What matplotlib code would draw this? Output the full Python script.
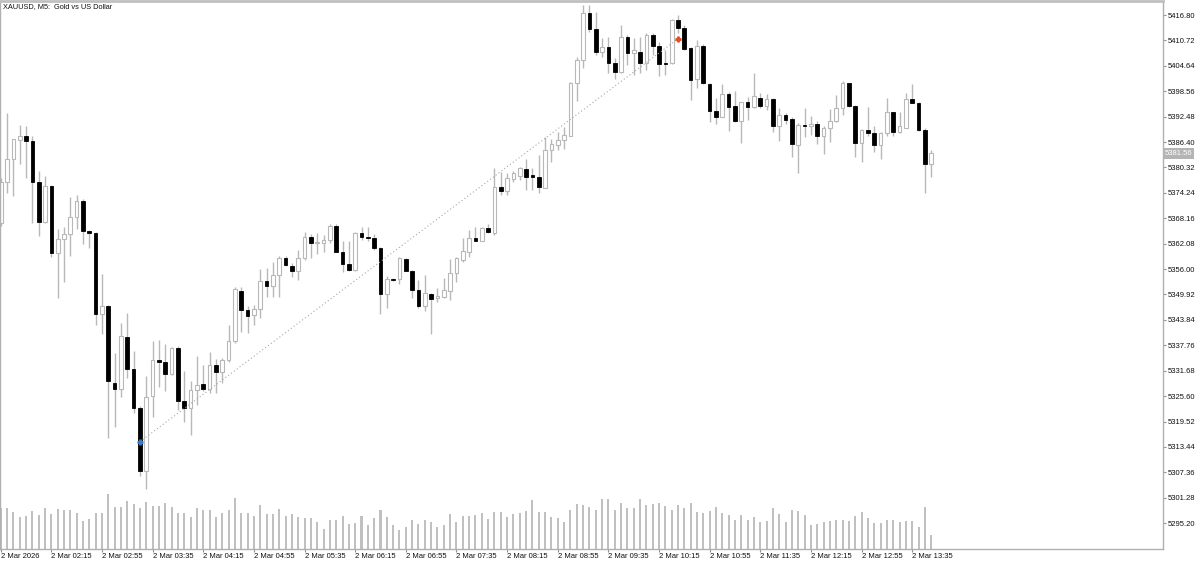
import matplotlib
matplotlib.use("Agg")
import matplotlib.pyplot as plt
import numpy as np
from matplotlib.transforms import blended_transform_factory, offset_copy

plt.rcParams['font.family'] = ['Liberation Sans', 'DejaVu Sans']

# ---------------- data (XAUUSD M5, 2 Mar 2026, from 01:35) ----------------
opens = [5367.0, 5376.9, 5382.3, 5386.9, 5387.9, 5386.7, 5376.8, 5367.2, 5375.9, 5359.9,
         5363.1, 5364.3, 5368.5, 5372.4, 5365.0, 5364.7, 5345.3, 5347.2, 5328.7, 5327.2,
         5339.8, 5332.1, 5322.7, 5307.7, 5325.6, 5334.2, 5333.8, 5330.8, 5337.1, 5324.4,
         5322.8, 5327.1, 5328.4, 5327.2, 5333.0, 5331.4, 5334.2, 5338.7, 5350.8, 5346.2,
         5345.0, 5346.4, 5353.1, 5352.0, 5354.7, 5358.7, 5356.8, 5355.6, 5358.6, 5363.7,
         5362.2, 5362.2, 5363.0, 5366.4, 5360.2, 5357.2, 5355.8, 5364.6, 5363.7, 5363.4,
         5361.1, 5350.0, 5353.6, 5353.6, 5358.4, 5355.6, 5351.0, 5347.2, 5350.0, 5349.0,
         5349.4, 5350.8, 5355.0, 5358.2, 5360.2, 5363.4, 5362.8, 5365.8, 5364.7, 5375.7,
         5374.8, 5377.6, 5378.3, 5380.0, 5378.5, 5378.0, 5375.3, 5384.5, 5385.7, 5386.9,
         5387.9, 5400.6, 5406.0, 5417.2, 5413.4, 5408.0, 5409.2, 5405.4, 5403.1, 5411.5,
         5407.6, 5408.0, 5405.4, 5412.0, 5409.4, 5405.4, 5405.2, 5415.6, 5413.6, 5408.8,
         5401.4, 5409.4, 5400.3, 5393.8, 5392.5, 5397.8, 5395.0, 5391.4, 5396.1, 5394.7,
         5397.0, 5395.0, 5396.6, 5390.2, 5392.9, 5391.8, 5385.7, 5390.5, 5390.3, 5390.7,
         5387.9, 5389.8, 5391.4, 5394.5, 5400.5, 5395.0, 5386.2, 5389.3, 5388.6, 5385.7,
         5388.5, 5393.5, 5388.9, 5389.8, 5396.6, 5395.8, 5389.3, 5381.1]

closes = [5376.8, 5382.3, 5387.1, 5387.9, 5386.7, 5376.8, 5367.2, 5375.9, 5359.9, 5363.2,
          5364.3, 5368.5, 5372.4, 5365.1, 5364.7, 5345.3, 5347.2, 5329.1, 5327.2, 5340.0,
          5332.1, 5322.7, 5307.7, 5325.5, 5334.2, 5333.8, 5330.8, 5337.2, 5324.4, 5322.8,
          5327.1, 5328.3, 5327.2, 5333.0, 5331.4, 5334.2, 5338.7, 5351.2, 5346.2, 5344.8,
          5346.4, 5353.1, 5352.0, 5354.7, 5358.7, 5357.0, 5355.6, 5358.6, 5363.7, 5362.2,
          5362.3, 5363.0, 5366.4, 5360.2, 5357.1, 5355.8, 5364.6, 5363.7, 5363.4, 5361.1,
          5350.0, 5353.6, 5353.4, 5358.6, 5355.6, 5351.0, 5347.2, 5350.2, 5348.8, 5349.6,
          5351.0, 5355.0, 5358.6, 5360.4, 5363.4, 5362.8, 5365.8, 5364.9, 5375.7, 5374.8,
          5377.7, 5379.1, 5380.1, 5378.1, 5378.0, 5375.6, 5384.5, 5385.9, 5386.9, 5388.1,
          5400.6, 5406.0, 5417.2, 5413.4, 5408.0, 5409.2, 5405.4, 5403.2, 5411.5, 5407.8,
          5408.4, 5405.4, 5412.0, 5409.4, 5405.1, 5405.1, 5415.6, 5413.6, 5408.7, 5401.3,
          5409.4, 5400.5, 5393.8, 5392.5, 5397.8, 5394.9, 5391.4, 5395.9, 5394.7, 5397.3,
          5395.0, 5396.6, 5390.2, 5392.9, 5391.7, 5385.9, 5390.5, 5390.2, 5390.7, 5387.9,
          5389.7, 5391.5, 5394.5, 5400.6, 5395.0, 5386.2, 5389.3, 5388.6, 5385.7, 5388.6,
          5393.5, 5388.9, 5390.2, 5396.6, 5395.8, 5389.3, 5381.1, 5383.7]

highs = [5377.8, 5393.4, 5387.2, 5390.5, 5390.2, 5387.9, 5379.5, 5378.3, 5376.1, 5365.5,
         5366.1, 5373.2, 5373.7, 5372.7, 5365.4, 5364.9, 5354.8, 5347.4, 5335.9, 5343.0,
         5345.4, 5336.5, 5323.2, 5330.3, 5338.8, 5339.0, 5338.1, 5337.4, 5337.6, 5331.5,
         5329.1, 5335.2, 5333.1, 5336.1, 5334.4, 5334.6, 5342.5, 5351.6, 5351.6, 5347.2,
         5347.4, 5355.9, 5356.2, 5357.8, 5359.1, 5359.1, 5357.5, 5360.6, 5364.8, 5364.4,
         5364.6, 5364.2, 5366.9, 5366.7, 5362.6, 5362.6, 5364.9, 5366.0, 5366.0, 5364.4,
         5361.3, 5354.4, 5353.9, 5358.8, 5358.6, 5355.8, 5353.4, 5354.6, 5350.2, 5351.4,
         5353.9, 5358.4, 5359.0, 5363.4, 5365.4, 5366.1, 5366.1, 5366.9, 5380.3, 5379.3,
         5378.9, 5379.5, 5380.5, 5382.3, 5380.1, 5383.3, 5387.7, 5387.1, 5388.9, 5390.1,
         5400.8, 5406.8, 5419.2, 5419.2, 5417.6, 5411.2, 5411.6, 5406.4, 5414.4, 5412.0,
         5411.2, 5411.5, 5412.4, 5412.4, 5410.3, 5408.4, 5415.8, 5416.8, 5414.4, 5409.2,
         5410.8, 5409.9, 5400.5, 5396.9, 5400.3, 5398.3, 5398.5, 5396.1, 5397.1, 5402.9,
         5398.1, 5397.9, 5396.9, 5394.5, 5393.3, 5392.3, 5390.9, 5394.5, 5392.6, 5391.5,
         5390.2, 5394.2, 5397.7, 5401.1, 5400.6, 5395.3, 5389.5, 5394.9, 5390.2, 5388.9,
         5397.0, 5393.7, 5393.7, 5398.1, 5400.3, 5396.1, 5389.7, 5384.5]

lows = [5366.3, 5374.3, 5373.6, 5381.1, 5377.8, 5367.0, 5363.9, 5367.0, 5359.0, 5349.0,
        5353.0, 5359.2, 5365.5, 5361.9, 5361.1, 5342.5, 5340.4, 5315.6, 5318.3, 5325.3,
        5329.9, 5321.6, 5306.5, 5303.4, 5320.7, 5327.7, 5326.9, 5330.7, 5322.3, 5319.3,
        5316.3, 5323.4, 5326.8, 5326.3, 5326.3, 5328.7, 5333.8, 5338.2, 5341.0, 5340.8,
        5342.6, 5344.2, 5349.4, 5349.4, 5349.4, 5356.7, 5354.2, 5353.4, 5358.2, 5358.7,
        5359.6, 5360.2, 5362.2, 5360.0, 5355.2, 5355.6, 5355.6, 5363.0, 5362.8, 5360.6,
        5345.2, 5346.8, 5353.1, 5352.4, 5355.5, 5349.0, 5346.8, 5346.0, 5340.5, 5348.0,
        5349.0, 5348.6, 5353.0, 5357.8, 5359.0, 5362.6, 5362.6, 5364.7, 5364.2, 5373.7,
        5373.7, 5376.9, 5377.3, 5374.9, 5374.9, 5374.1, 5375.3, 5381.7, 5384.5, 5384.7,
        5387.8, 5396.3, 5404.0, 5412.7, 5407.2, 5406.8, 5402.9, 5401.5, 5402.9, 5404.8,
        5402.4, 5402.9, 5403.6, 5407.2, 5402.2, 5402.4, 5405.1, 5412.5, 5408.4, 5396.5,
        5399.3, 5400.3, 5391.3, 5390.7, 5392.4, 5389.1, 5391.3, 5386.1, 5391.7, 5394.5,
        5394.5, 5394.1, 5388.9, 5386.7, 5390.7, 5382.9, 5378.9, 5387.5, 5388.1, 5385.9,
        5383.5, 5386.5, 5391.3, 5392.9, 5394.9, 5382.8, 5381.6, 5387.9, 5384.1, 5382.3,
        5387.9, 5387.9, 5388.5, 5389.7, 5395.7, 5389.1, 5374.1, 5378.1]

volumes = [41, 41, 37, 32, 33, 38, 34, 41, 35, 40,
           39, 39, 36, 28, 30, 36, 36, 55, 42, 42,
           48, 45, 41, 47, 43, 43, 46, 42, 36, 36,
           32, 41, 39, 39, 32, 36, 39, 51, 36, 36,
           33, 44, 35, 35, 40, 33, 35, 32, 31, 31,
           27, 20, 29, 29, 33, 25, 26, 33, 24, 31,
           39, 32, 24, 19, 22, 29, 25, 29, 27, 22,
           24, 35, 27, 33, 33, 34, 36, 30, 37, 37,
           32, 35, 36, 38, 49, 37, 37, 32, 31, 27,
           39, 45, 44, 42, 39, 50, 50, 39, 46, 41,
           41, 50, 44, 45, 46, 43, 39, 44, 41, 46,
           37, 36, 38, 42, 36, 34, 29, 34, 29, 32,
           27, 28, 41, 35, 27, 39, 38, 34, 24, 25,
           27, 28, 29, 29, 28, 33, 37, 31, 26, 26,
           29, 29, 27, 28, 28, 22, 42, 14]

time_label_bars = [0, 8, 16, 24, 32, 40, 48, 56, 64, 72, 80, 88, 96, 104, 112, 120, 128, 136, 144]
time_labels = ["2 Mar 2026", "2 Mar 02:15", "2 Mar 02:55", "2 Mar 03:35", "2 Mar 04:15",
               "2 Mar 04:55", "2 Mar 05:35", "2 Mar 06:15", "2 Mar 06:55", "2 Mar 07:35",
               "2 Mar 08:15", "2 Mar 08:55", "2 Mar 09:35", "2 Mar 10:15", "2 Mar 10:55",
               "2 Mar 11:35", "2 Mar 12:15", "2 Mar 12:55", "2 Mar 13:35"]

price_ticks = [5416.80, 5410.72, 5404.64, 5398.56, 5392.48, 5386.40, 5380.32, 5374.24,
               5368.16, 5362.08, 5356.00, 5349.92, 5343.84, 5337.76, 5331.68, 5325.60,
               5319.52, 5313.44, 5307.36, 5301.28, 5295.20]

bid_label = "5381.56"
trade_bars = [22, 107]
trade_prices = [5314.7, 5411.1]
title = "XAUUSD, M5:  Gold vs US Dollar"

# ---------------- figure ----------------
W, H = 1200, 561
fig = plt.figure(figsize=(W / 100, H / 100), dpi=100)
rect = [0.0, 12.5 / H, 1162.5 / W, 548.0 / H]
vax = fig.add_axes(rect)
ax = fig.add_axes(rect)
vax.set_zorder(0)
ax.set_zorder(1)
ax.patch.set_visible(False)

o = np.array(opens); c = np.array(closes); h = np.array(highs); l = np.array(lows)
idx = np.arange(len(o))
xlim = (-0.11, 183.54)

# volumes
vax.bar(idx, volumes, width=0.32, color='#c0c0c0', linewidth=0)
vax.set_xlim(*xlim)
vax.set_ylim(0, 548)
vax.axis('off')

# candles
wick_col = '#b8b8b8'
ax.vlines(idx, l, h, color=wick_col, linewidth=1.0, zorder=1)
up = c >= o
bottom = np.minimum(o, c)
height = np.maximum(np.abs(c - o), 0.22)
ax.bar(idx[up], height[up], bottom=bottom[up], width=0.58, facecolor='white',
       edgecolor=wick_col, linewidth=0.8, zorder=2)
ax.bar(idx[~up], height[~up], bottom=bottom[~up], width=0.58, facecolor='black',
       edgecolor='black', linewidth=0.6, zorder=2)

# trade history line
ax.plot(trade_bars, trade_prices, color='#a8a8a8', linewidth=0.8,
        linestyle=(0, (1, 2.2)), zorder=3)
ax.plot(trade_bars[0], trade_prices[0], marker='P', markersize=3.5,
        color='#2a7fd0', zorder=4)
ax.plot(trade_bars[1], trade_prices[1], marker='P', markersize=3.5,
        color='#e0502a', zorder=4)

ax.set_xlim(*xlim)
ax.set_ylim(5289.13, 5420.27)

# spines
for s in ax.spines.values():
    s.set_color('#b0b0b0')
    s.set_linewidth(1.0)
ax.spines['top'].set_linewidth(2.0)
ax.spines['top'].set_color('#c0c0c0')

# price axis on right
ax.yaxis.tick_right()
ax.set_yticks(price_ticks)
ax.set_yticklabels([f"{p:.2f}" for p in price_ticks])
ax.tick_params(axis='y', direction='out', length=2.5, width=0.8, color='#909090',
               labelsize=5.5, pad=1.2, labelcolor='#101010')

# time axis
ax.set_xticks(time_label_bars)
ax.set_xticklabels(time_labels)
for t in ax.get_xticklabels():
    t.set_horizontalalignment('left')
ax.tick_params(axis='x', direction='out', length=2, width=0.8, color='#909090',
               labelsize=5.5, pad=1.5, labelcolor='#101010')

# bid label
tr = blended_transform_factory(ax.transAxes, ax.transData)
tr = offset_copy(tr, fig=fig, x=2.0, y=0, units='dots')
ax.text(1.0, c[-1], bid_label, transform=tr, ha='left', va='center', fontsize=5.5,
        color='white', clip_on=False, zorder=5,
        bbox=dict(boxstyle='square,pad=0.25', facecolor='#b4b4b4', edgecolor='none'))

# title
fig.text(3 / W, 1 - 6.5 / H, title, ha='left', va='center', fontsize=5.3, color='#101010')

fig.savefig('out.png', dpi=100)
